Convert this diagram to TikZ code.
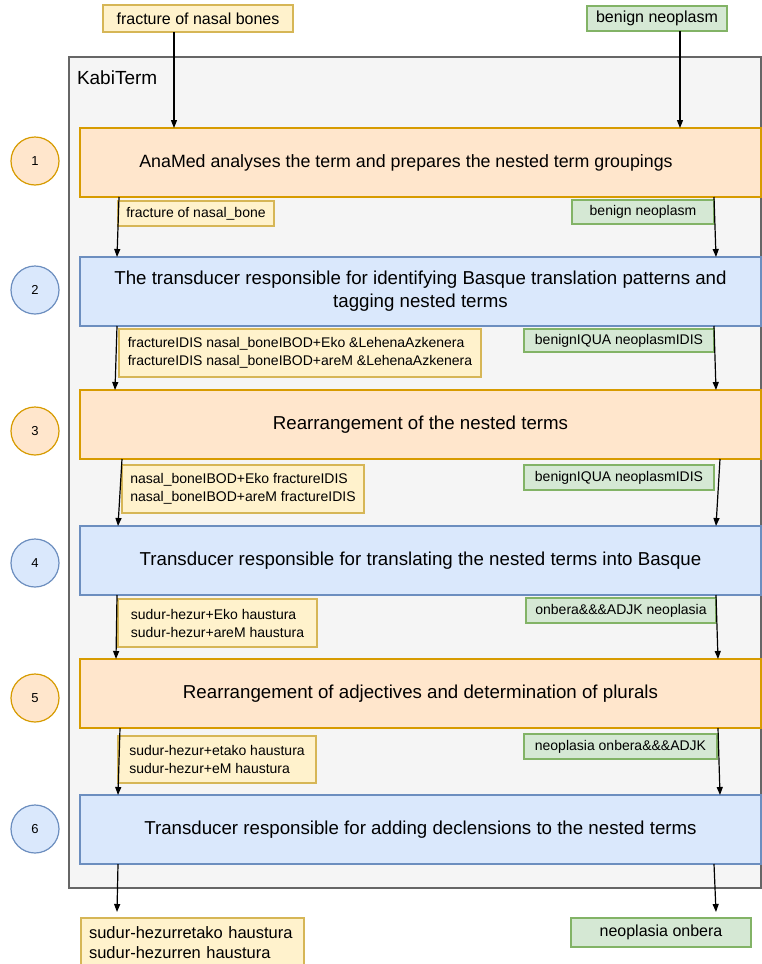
\documentclass[tikz,border=0pt]{standalone}
\usepackage{fontspec}
\setmainfont{Liberation Sans}
\usetikzlibrary{arrows.meta}
\definecolor{orfill}{HTML}{FFE6CC}\definecolor{ordraw}{HTML}{D79B00}
\definecolor{blfill}{HTML}{DAE8FC}\definecolor{bldraw}{HTML}{6C8EBF}
\definecolor{yefill}{HTML}{FFF2CC}\definecolor{yedraw}{HTML}{D6B656}
\definecolor{grfill}{HTML}{D5E8D4}\definecolor{grdraw}{HTML}{82B366}
\definecolor{cofill}{HTML}{F5F5F5}\definecolor{codraw}{HTML}{666666}
\begin{document}
\begin{tikzpicture}[x=1pt,y=-1pt,
  every node/.style={inner sep=0pt, outer sep=0pt},
  stagebox/.style={draw, line width=1.2pt, anchor=north west, minimum width=681pt, minimum height=69pt,
    align=center, font=\fontsize{18.7}{23}\selectfont},
  orstage/.style={stagebox, fill=orfill, draw=ordraw},
  blstage/.style={stagebox, fill=blfill, draw=bldraw},
  numcirc/.style={circle, draw, line width=1.2pt, minimum size=48pt, font=\fontsize{13}{15}\selectfont},
  ornum/.style={numcirc, fill=orfill, draw=ordraw},
  blnum/.style={numcirc, fill=blfill, draw=bldraw},
  tag/.style={draw, line width=1.2pt, anchor=north west, align=left, font=\fontsize{14}{18}\selectfont},
  yetag/.style={tag, fill=yefill, draw=yedraw},
  grtag/.style={tag, fill=grfill, draw=grdraw},
  arr/.style={-{Triangle[length=8pt,width=6pt]}, line width=1.2pt, black}
]
\useasboundingbox (0,0) rectangle (762,964);

% container
\node[draw=codraw, fill=cofill, line width=1.2pt, anchor=north west, minimum width=692pt, minimum height=831pt] (kabi) at (69,57) {};
\node[anchor=base west, font=\fontsize{19}{22}\selectfont] (kabititle) at (77,84) {KabiTerm};

% input terms
\node[yetag, minimum width=190pt, minimum height=27pt, align=center, font=\fontsize{16}{19}\selectfont] (in1) at (103,5) {fracture of nasal bones};
\node[grtag, minimum width=140pt, minimum height=25pt, align=center, font=\fontsize{16}{19}\selectfont] (in2) at (587,6) {benign neoplasm};

% stages
\node[orstage, font=\fontsize{17.8}{22}\selectfont] (b1) at (80,128) {AnaMed analyses the term and prepares the nested term groupings\hspace{29pt}};
\node[blstage] (b2) at (80,257) {The transducer responsible for identifying Basque translation patterns and\\tagging nested terms};
\node[orstage] (b3) at (80,390) {Rearrangement of the nested terms};
\node[blstage] (b4) at (80,526) {Transducer responsible for translating the nested terms into Basque};
\node[orstage] (b5) at (80,659) {Rearrangement of adjectives and determination of plurals};
\node[blstage] (b6) at (80,795) {Transducer responsible for adding declensions to the nested terms};

% step numbers
\node[ornum] (n1) at (35,161) {1};
\node[blnum] (n2) at (35,290) {2};
\node[ornum] (n3) at (35,431) {3};
\node[blnum] (n4) at (35,563) {4};
\node[ornum] (n5) at (35,698) {5};
\node[blnum] (n6) at (35,829) {6};

% intermediate results
\node[yetag, minimum width=156pt, minimum height=25pt, align=center] (l1) at (118,201) {fracture of nasal\_bone};
\node[grtag, minimum width=142pt, minimum height=24pt, align=center] (r1) at (572,200) {benign neoplasm};
\node[yetag, minimum width=362pt, minimum height=48pt] (l2) at (119,329) {fractureIDIS nasal\_boneIBOD+Eko \&LehenaAzkenera\\fractureIDIS nasal\_boneIBOD+areM \&LehenaAzkenera};
\node[grtag, minimum width=190pt, minimum height=23pt, align=center] (r2) at (524,329) {benignIQUA neoplasmIDIS};
\node[yetag, minimum width=242pt, minimum height=48pt] (l3) at (122,465) {nasal\_boneIBOD+Eko fractureIDIS\\nasal\_boneIBOD+areM fractureIDIS};
\node[grtag, minimum width=190pt, minimum height=25pt, align=center] (r3) at (524,465) {benignIQUA neoplasmIDIS};
\node[yetag, minimum width=199pt, minimum height=48pt] (l4) at (118,599) {sudur-hezur+Eko haustura\\sudur-hezur+areM haustura};
\node[grtag, minimum width=190pt, minimum height=25pt, align=center] (r4) at (526,598) {onbera\&\&\&ADJK neoplasia};
\node[yetag, minimum width=198pt, minimum height=47pt] (l5) at (118,736) {sudur-hezur+etako haustura\\sudur-hezur+eM haustura};
\node[grtag, minimum width=193pt, minimum height=25pt, align=center] (r5) at (524,734) {neoplasia onbera\&\&\&ADJK};

% outputs
\node[yetag, inner xsep=8pt, text width=207pt, minimum height=50pt, font=\fontsize{16.5}{20}\selectfont] (out1) at (81,918) {sudur-hezurretako haustura\\sudur-hezurren haustura};
\node[grtag, minimum width=180pt, minimum height=29pt, align=center, font=\fontsize{16}{19}\selectfont] (out2) at (571,918) {neoplasia onbera};
\coordinate (end1) at (117,912);
\coordinate (end2) at (716,912);

% connectors
\draw[arr] ([xshift=-24pt]in1.south) -- ([xshift=94pt]b1.north west);
\draw[arr] ([xshift=23pt]in2.south) -- ([xshift=600pt]b1.north west);

\draw[arr] ([xshift=39pt]b1.south west) -- ([xshift=37pt]b2.north west);
\draw[arr] ([xshift=634pt]b1.south west) -- ([xshift=636pt]b2.north west);
\draw[arr] ([xshift=37pt]b2.south west) -- ([xshift=35pt]b3.north west);
\draw[arr] ([xshift=634pt]b2.south west) -- ([xshift=636pt]b3.north west);
\draw[arr] ([xshift=42pt]b3.south west) -- ([xshift=38pt]b4.north west);
\draw[arr] ([xshift=640pt]b3.south west) -- ([xshift=636pt]b4.north west);
\draw[arr] ([xshift=37pt]b4.south west) -- ([xshift=36pt]b5.north west);
\draw[arr] ([xshift=636pt]b4.south west) -- ([xshift=638pt]b5.north west);
\draw[arr] ([xshift=40pt]b5.south west) -- ([xshift=38pt]b6.north west);
\draw[arr] ([xshift=638pt]b5.south west) -- ([xshift=640pt]b6.north west);
\draw[arr] ([xshift=38pt]b6.south west) -- (end1);
\draw[arr] ([xshift=634pt]b6.south west) -- (end2);
\end{tikzpicture}
\end{document}
